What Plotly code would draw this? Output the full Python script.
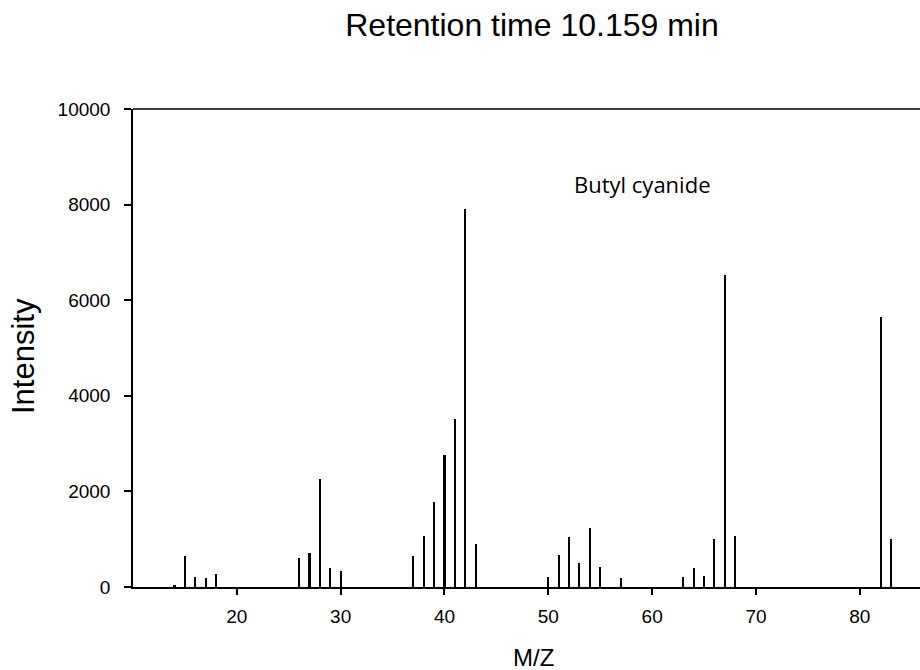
import plotly.graph_objects as go

mz = [14, 15, 16, 17, 18, 26, 27, 28, 29, 30,
      37, 38, 39, 40, 41, 42, 43,
      50, 51, 52, 53, 54, 55, 57,
      63, 64, 65, 66, 67, 68, 82, 83]
intensity = [35, 640, 215, 190, 265, 605, 715, 2265, 405, 340,
             655, 1075, 1785, 2755, 3510, 7910, 890,
             210, 665, 1055, 500, 1240, 425, 180,
             200, 395, 230, 1000, 6535, 1060, 5640, 1005]
x_ticks = [20, 30, 40, 50, 60, 70, 80]
y_ticks = [0, 2000, 4000, 6000, 8000, 10000]
y_ticktext = [str(v) for v in y_ticks]

fig = go.Figure()
fig.add_trace(go.Bar(x=mz, y=intensity, width=0.2,
                     marker=dict(color="black", line=dict(width=0)),
                     showlegend=False))

fig.update_layout(
    width=920, height=670,
    margin=dict(l=133, r=0, t=109, b=83),
    plot_bgcolor="white", paper_bgcolor="white",
    bargap=0,
    title=dict(text="Retention time 10.159 min", x=532 / 920, xanchor="center",
               xref="container",
               y=1 - 25 / 670, yanchor="middle", yref="container",
               font=dict(family="Liberation Sans, Arial", size=32, color="black")),
    font=dict(family="Liberation Sans, Arial", color="black"),
    xaxis=dict(range=[10, 85.8], tickvals=x_ticks, ticks="outside", ticklen=6,
               tickwidth=1.5, tickcolor="black", showline=True, linecolor="black",
               linewidth=1.5, mirror=False, showgrid=False, zeroline=False,
               tickfont=dict(size=19), ticklabelstandoff=5),
    yaxis=dict(range=[0, 10000], tickvals=y_ticks, ticktext=y_ticktext,
               ticks="outside", ticklen=7,
               tickwidth=1.5, tickcolor="black", showline=True, linecolor="black",
               linewidth=1.5, showgrid=False, zeroline=False,
               tickfont=dict(size=19), ticklabelstandoff=10),
    annotations=[
        dict(text="Butyl cyanide", x=(572 - 133) / 787, xref="paper",
             y=8440, yref="y",
             showarrow=False, xanchor="left", yanchor="middle",
             font=dict(family="Open Sans, Noto Sans", size=22, color="black")),
        dict(text="Intensity", x=(23 - 133) / 787, xref="paper", y=1 - (356 - 109) / 478,
             yref="paper", textangle=-90, showarrow=False,
             xanchor="center", yanchor="middle",
             font=dict(size=31, color="black")),
        dict(text="M/Z", x=(533 - 133) / 787, xref="paper", y=0, yref="paper",
             yshift=-(657 - 587), showarrow=False, xanchor="center", yanchor="middle",
             font=dict(size=24, color="black")),
    ],
    shapes=[dict(type="line", xref="paper", yref="paper", x0=0, x1=1, y0=1, y1=1,
                 line=dict(color="black", width=1.5))],
)

fig.write_html("out.html")
